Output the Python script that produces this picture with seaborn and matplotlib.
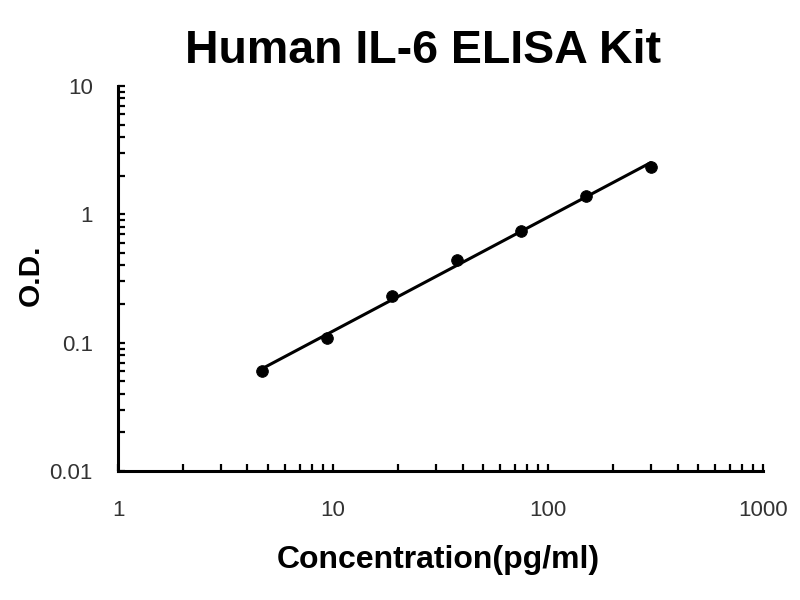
import numpy as np
import pandas as pd
import matplotlib
matplotlib.use('Agg')
import matplotlib.pyplot as plt
from matplotlib.ticker import LogLocator, NullFormatter
import seaborn as sns

# Standard curve data
conc = [4.6875, 9.375, 18.75, 37.5, 75, 150, 300]
od = [0.060, 0.109, 0.231, 0.44, 0.74, 1.39, 2.34]
x_ticks = [1, 10, 100, 1000]
y_ticks = [0.01, 0.1, 1, 10]

sns.set_style('white')
plt.rcParams['font.family'] = ['Liberation Sans', 'DejaVu Sans']

df = pd.DataFrame({'conc': conc, 'od': od})

# power trendline (linear fit in log-log space)
b, a = np.polyfit(np.log10(df['conc']), np.log10(df['od']), 1)
fit = pd.DataFrame({'conc': [df['conc'].min(), df['conc'].max()]})
fit['od'] = 10 ** (a + b * np.log10(fit['conc']))

fig = plt.figure(figsize=(8, 6), dpi=100)
ax = fig.add_axes([0.1475, 0.215, 0.8065, 0.6417])

sns.lineplot(data=fit, x='conc', y='od', ax=ax, color='black', linewidth=2.2)
sns.scatterplot(data=df, x='conc', y='od', ax=ax, color='black', s=70,
                edgecolor='black', zorder=3)

ax.set_xscale('log')
ax.set_yscale('log')
ax.set_xlim(1, 1000)
ax.set_ylim(0.01, 10)

ax.set_xticks(x_ticks)
ax.set_xticklabels([str(v) for v in x_ticks])
ax.set_yticks(y_ticks)
ax.set_yticklabels(['0.01', '0.1', '1', '10'])
ax.xaxis.set_minor_locator(LogLocator(base=10, subs=np.arange(2, 10)))
ax.yaxis.set_minor_locator(LogLocator(base=10, subs=np.arange(2, 10)))
ax.xaxis.set_minor_formatter(NullFormatter())
ax.yaxis.set_minor_formatter(NullFormatter())

ax.tick_params(axis='both', which='both', direction='in', length=5, width=1.6,
               color='black', labelsize=16, labelcolor='#333333',
               bottom=True, left=True, top=False, right=False)
ax.tick_params(axis='x', which='major', pad=21)
ax.tick_params(axis='y', which='major', pad=18)

for s in ['top', 'right']:
    ax.spines[s].set_visible(False)
for s in ['left', 'bottom']:
    ax.spines[s].set_linewidth(2.2)
    ax.spines[s].set_color('black')

ax.set_xlabel('Concentration(pg/ml)', fontsize=23, fontweight='bold',
              color='black', va='baseline')
ax.xaxis.set_label_coords(0.496, -0.252)
ax.set_ylabel('O.D.', fontsize=21.5, fontweight='bold', color='black', va='center')
ax.yaxis.set_label_coords(-0.136, 0.509)

fig.text(0.529, 1 - 63 / 600, 'Human IL-6 ELISA Kit', ha='center', va='baseline',
         fontsize=33.5, fontweight='bold', color='black')

fig.savefig('out.png', dpi=100)
